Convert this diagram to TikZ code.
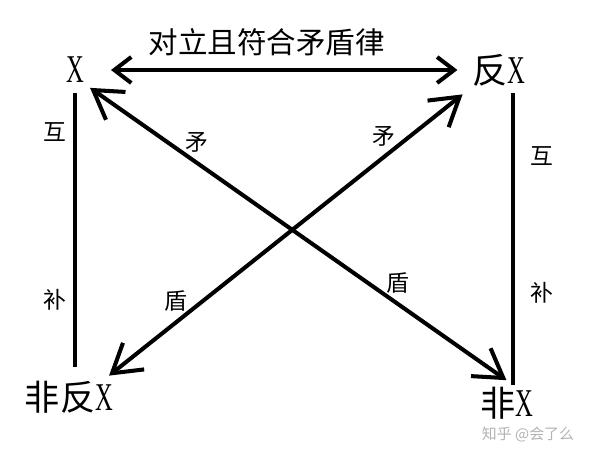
\documentclass[tikz,border=0pt]{standalone}
\usepackage{fontspec}
\setmainfont{Liberation Serif}
\newfontfamily\cjk{Noto Sans CJK SC}
\usetikzlibrary{arrows.meta}
\newcommand{\xx}{{\rmfamily\scalebox{0.7}[1.12]{X}}}

\begin{document}
\begin{tikzpicture}[x=0.02cm, y=-0.02cm,
  term/.style={inner sep=1pt, font=\fontsize{20}{24}\selectfont\cjk},
  lab/.style={inner sep=1pt, font=\fontsize{13}{15}\selectfont\cjk},
  link/.style={line width=2.3pt},
  bihead/.style={link, {Straight Barb[length=0.34cm,width=0.52cm]}-{Straight Barb[length=0.34cm,width=0.52cm]}},
  bidiag/.style={link, {Straight Barb[length=0.55cm,width=0.68cm]}-{Straight Barb[length=0.55cm,width=0.68cm]}}]
\useasboundingbox (0,0) rectangle (600,459);
% the four terms
\node (x) at (75,70) [term] {\xx};
\node (fx) at (499,70) [term] {反\xx};
\node (nfx) at (69,397) [term] {非反\xx};
\node (nx) at (507,403) [term] {非\xx};
% top relation
\draw[bihead, shorten <=0.5cm, shorten >=0.26cm] (x) -- (fx)
  node[pos=0.47, above=6pt, lab, font=\fontsize{16.8}{20}\selectfont\cjk] {对立且符合矛盾律};
% diagonals
\draw[bidiag, shorten <=0.1cm, shorten >=0.16cm] (x.south east) -- ([xshift=0.12cm]nx.north)
  node[pos=0.26, above=4pt, lab] {矛}
  node[pos=0.73, above=4pt, lab] {盾};
\draw[bidiag, shorten <=0.2cm, shorten >=0.1cm] (fx.south west) -- ([xshift=-0.2cm]nfx.north east)
  node[pos=0.236, above=4pt, lab] {矛}
  node[pos=0.805, above=4pt, lab] {盾};
% sides
\draw[link, shorten <=0.16cm, shorten >=0.24cm] (x.south) -- (x.south |- nfx.north)
  node[pos=0.16, left=3pt, lab] {互}
  node[pos=0.73, left=3pt, lab] {补};
\draw[link, shorten <=0.1cm] ([xshift=0.28cm]fx.south) -- ([xshift=0.28cm]fx.south |- nx.north)
  node[pos=0.23, right=8pt, lab] {互}
  node[pos=0.69, right=8pt, lab] {补};
% watermark
\node (mark) at (528,435) [inner sep=0pt, text=black!30, font=\fontsize{8.5}{10}\selectfont\cjk] {知乎 @会了么};
\end{tikzpicture}
\end{document}
